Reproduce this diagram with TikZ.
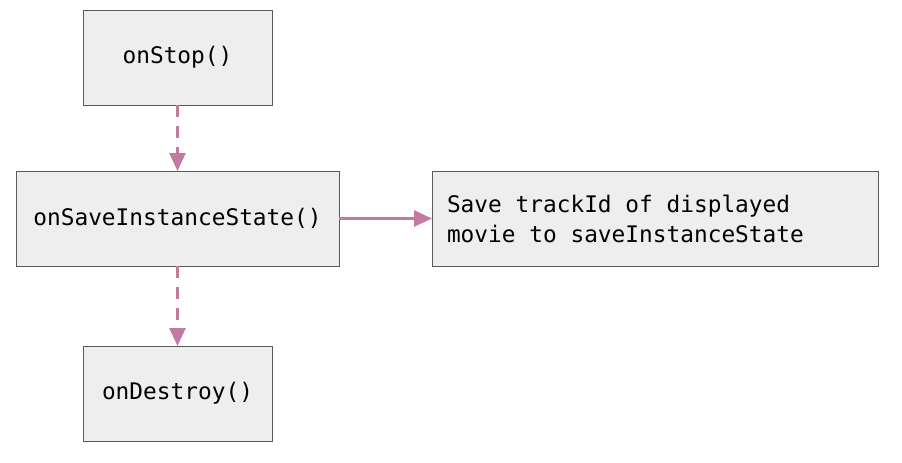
\documentclass[tikz,border=0pt]{standalone}
\usepackage{fontspec}
\setmonofont{DejaVu Sans Mono}
\usetikzlibrary{positioning, arrows.meta}
\definecolor{boxfill}{HTML}{EEEEEE}
\definecolor{boxline}{HTML}{595959}
\definecolor{flow}{HTML}{C27BA0}
\newcommand\boxfont{\ttfamily\fontsize{22.8pt}{30pt}\selectfont}
% align=left shrinks the spaces, so give them back their full mono width
\newcommand\fullspace{\spaceskip=0.602em\relax\xspaceskip=\spaceskip}
\tikzset{
    x=1pt, y=1pt,
    callback/.style={draw=boxline, line width=1pt, fill=boxfill, outer sep=0pt,
        minimum width=189pt, minimum height=95pt, font=\boxfont}, % one lifecycle callback
    note/.style={callback, text width=416pt, inner xsep=15pt, align=left,
        execute at begin node=\fullspace}, % what happens there
    flowline/.style={draw=flow, line width=2.6pt, -{Triangle[length=18pt,width=16pt]}}, % arrows between boxes
    next/.style={flowline, dash pattern=on 12pt off 9pt}, % dashed: next callback
}
\begin{document}
\begin{tikzpicture}
    \useasboundingbox (0,0) rectangle (902,-463);
    \node[callback] (stop) at (177.5,-57.5) {onStop()};
    \node[callback, minimum width=323pt, below=66pt of stop] (save) {onSaveInstanceState()};
    \node[callback, below=80pt of save] (destroy) {onDestroy()};
    \node[note, right=93pt of save] (track) {Save trackId of displayed\\movie to saveInstanceState};
    \draw[next] (stop) -- (save);
    \draw[next] (save) -- (destroy);
    \draw[flowline] (save) -- (track);
\end{tikzpicture}
\end{document}
